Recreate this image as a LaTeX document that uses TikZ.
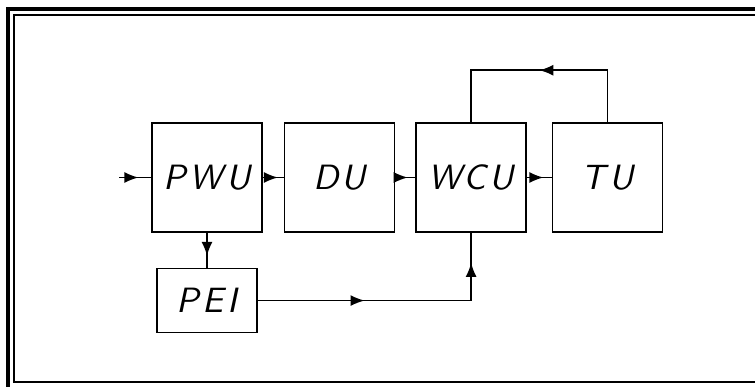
\documentclass[tikz,border=0pt]{standalone}
\usepackage{fontspec}
\usetikzlibrary{arrows.meta,positioning,decorations.markings}

\newfontfamily\plotfont{lmsans10-oblique.otf}[LetterSpace=10]
\newcommand\plotlabel{\fontsize{20}{22}\plotfont}

\begin{document}
\begin{tikzpicture}[x=0.02cm,y=-0.02cm,
  unit/.style={draw,line width=0.9pt,minimum width=2.2cm,minimum height=2.18cm,
               inner sep=0pt,font=\plotlabel},
  small/.style={unit,minimum width=2cm,minimum height=1.28cm},
  ptip/.tip={Latex[length=2.8mm,width=2.2mm]},
  flow/.style={line width=0.9pt,postaction={decorate},
               decoration={markings,mark=at position #1 with {\arrow{ptip}}}},
  flow/.default=0.6
]
\useasboundingbox (0,0) rectangle (755,386);
% frame
\draw[line width=2pt] (8,9) rectangle (770,390);
\draw[line width=1.6pt] (14,15) rectangle (770,382);

\node[unit] (pwu) at (207,177.5) {PWU};
\node[unit,right=0.42cm of pwu] (du) {DU};
\node[unit,right=0.40cm of du] (wcu) {WCU};
\node[unit,right=0.50cm of wcu] (tu) {TU};
\node[small,below=0.70cm of pwu] (pei) {PEI};

\coordinate[left=0.64cm of pwu.west] (in);

\draw[flow=0.6] (in) -- (pwu.west);
\draw[flow=0.72] (pwu.east) -- (du.west);
\draw[flow=0.62] (du.east) -- (wcu.west);
\draw[flow=0.66] (wcu.east) -- (tu.west);
\draw[flow=0.66] (pwu.south) -- (pei.north);
\draw[flow=0.5] (tu.north) -- ++(0,1.04cm) -| (wcu.north);
\draw[line width=0.9pt,postaction={decorate},
      decoration={markings,mark=at position 0.38 with {\arrow{ptip}},
                  mark=at position 0.893 with {\arrow{ptip}}}]
  (pei.east) -| (wcu.south);
\end{tikzpicture}
\end{document}
